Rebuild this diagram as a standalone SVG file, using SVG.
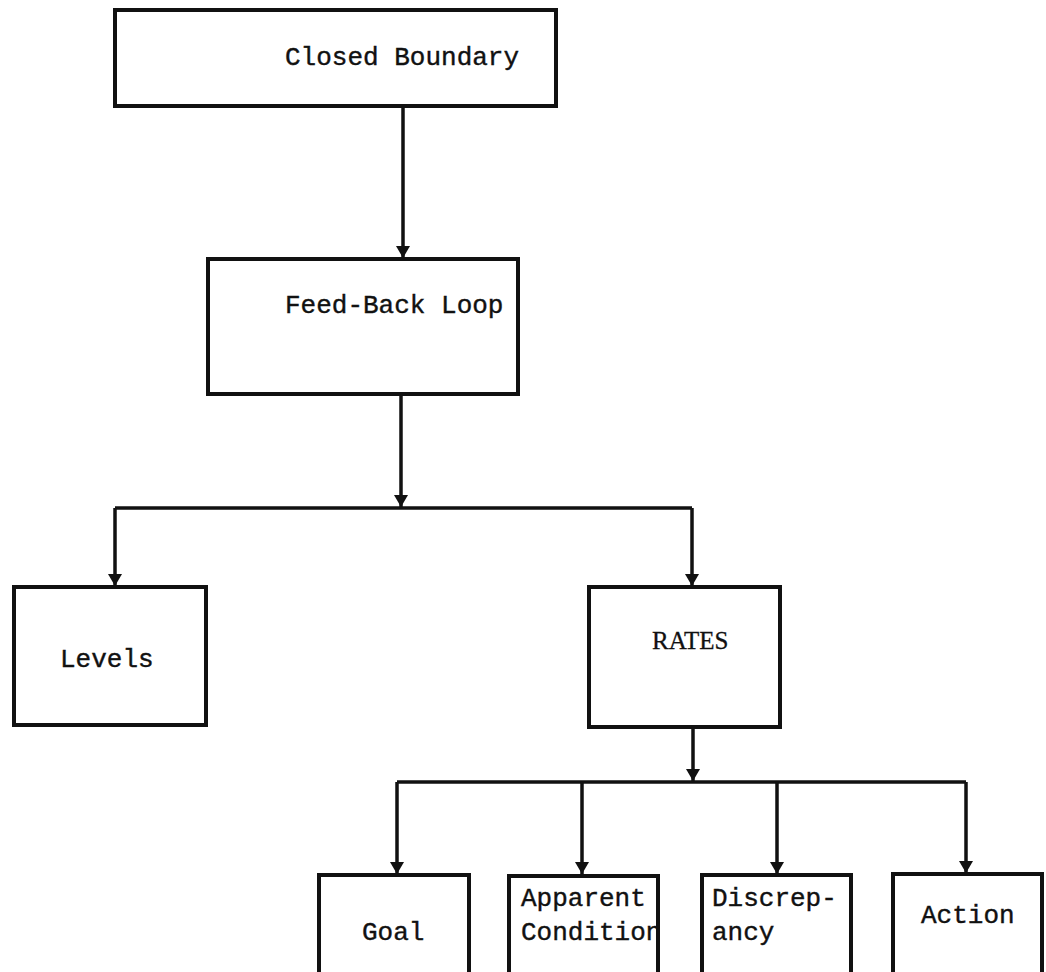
<svg xmlns="http://www.w3.org/2000/svg" width="1046" height="972" viewBox="0 0 1046 972">
<style>
.box{fill:#fff;stroke:#111;stroke-width:4}
.c{fill:none;stroke:#111;stroke-width:3.5}
.t{font-family:"Liberation Mono","DejaVu Sans Mono",monospace;font-size:26px;fill:#111;stroke:#111;stroke-width:0.4}
.s{font-family:"Liberation Serif","Times New Roman",serif;font-size:25px;fill:#111;stroke:#111;stroke-width:0.3}
</style>
<defs>
<marker id="ah" viewBox="0 0 12 16" refX="12" refY="8" markerWidth="12" markerHeight="16" markerUnits="userSpaceOnUse" orient="auto">
<path d="M0,1 L12,8 L0,15 Z" fill="#111"/>
</marker>
<clipPath id="clipAC"><rect x="508" y="870" width="152" height="102"/></clipPath>
</defs>
<rect width="1046" height="972" fill="#fff"/>
<g id="connectors">
<line class="c" x1="403" y1="107" x2="403" y2="258" marker-end="url(#ah)"/>
<line class="c" x1="401" y1="394" x2="401" y2="507" marker-end="url(#ah)"/>
<line class="c" x1="115" y1="508" x2="692" y2="508"/>
<line class="c" x1="115" y1="508" x2="115" y2="586" marker-end="url(#ah)"/>
<line class="c" x1="692" y1="508" x2="692" y2="586" marker-end="url(#ah)"/>
<line class="c" x1="693" y1="727" x2="693" y2="781" marker-end="url(#ah)"/>
<line class="c" x1="397" y1="782" x2="966" y2="782"/>
<line class="c" x1="397" y1="782" x2="397" y2="874" marker-end="url(#ah)"/>
<line class="c" x1="582" y1="782" x2="582" y2="874" marker-end="url(#ah)"/>
<line class="c" x1="777" y1="782" x2="777" y2="874" marker-end="url(#ah)"/>
<line class="c" x1="966" y1="782" x2="966" y2="873" marker-end="url(#ah)"/>
</g>
<g id="closed-boundary">
<rect class="box" x="115" y="10" width="441" height="96"/>
<text class="t" x="285" y="65">Closed Boundary</text>
</g>
<g id="feedback-loop">
<rect class="box" x="208" y="259" width="310" height="135"/>
<text class="t" x="285" y="313">Feed-Back Loop</text>
</g>
<g id="levels">
<rect class="box" x="14" y="587" width="192" height="138"/>
<text class="t" x="60" y="667">Levels</text>
</g>
<g id="rates">
<rect class="box" x="589" y="587" width="191" height="140"/>
<text class="s" x="652" y="649">RATES</text>
</g>
<g id="goal">
<rect class="box" x="319" y="875" width="150" height="110"/>
<text class="t" x="362" y="940">Goal</text>
</g>
<g id="apparent-condition">
<rect class="box" x="509" y="876" width="149" height="110"/>
<g clip-path="url(#clipAC)">
<text class="t" x="521" y="906">Apparent</text>
<text class="t" x="521" y="940">Condition</text>
</g>
<rect x="509" y="876" width="149" height="110" fill="none" stroke="#111" stroke-width="4"/>
</g>
<g id="discrepancy">
<rect class="box" x="702" y="875" width="149" height="110"/>
<text class="t" x="712" y="906">Discrep-</text>
<text class="t" x="712" y="940">ancy</text>
</g>
<g id="action">
<rect class="box" x="893" y="874" width="149" height="110"/>
<text class="t" x="921" y="923">Action</text>
</g>
</svg>
